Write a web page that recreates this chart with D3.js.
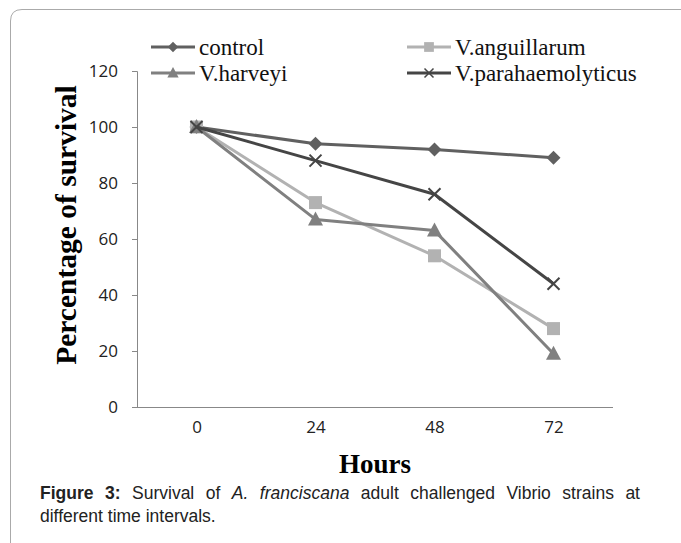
<!DOCTYPE html>
<html>
<head>
<meta charset="utf-8">
<script src="https://cdn.jsdelivr.net/npm/d3@7"></script>
<style>
  body { margin: 0; background: #fff; }
  #wrap { position: relative; width: 681px; height: 543px; overflow: hidden; }
  #caption {
    position: absolute; left: 40px; top: 482px; width: 600px;
    font-family: "Liberation Sans", Arial, sans-serif; font-size: 17.5px;
    line-height: 23px; color: #222;
  }
  #caption .l1 { text-align: justify; text-align-last: justify; white-space: nowrap; }
</style>
</head>
<body>
<div id="wrap">
  <div id="chart"></div>
  <div id="caption">
    <div class="l1"><b>Figure 3:</b> Survival of <i>A. franciscana</i> adult challenged Vibrio strains at</div>
    <div>different time intervals.</div>
  </div>
</div>
<script>
// chart data
const hours = ['0', '24', '48', '72'];
const yTicks = [0, 20, 40, 60, 80, 100, 120];
const seriesNames = ['control', 'V.anguillarum', 'V.harveyi', 'V.parahaemolyticus'];
const control = [100, 94, 92, 89];
const anguillarum = [100, 73, 54, 28];
const harveyi = [100, 67, 63, 19];
const parahaemolyticus = [100, 88, 76, 44];

const series = [
  { name: seriesNames[0], values: control, color: '#606060', symbol: 'diamond' },
  { name: seriesNames[1], values: anguillarum, color: '#b2b2b2', symbol: 'square' },
  { name: seriesNames[2], values: harveyi, color: '#808080', symbol: 'triangle' },
  { name: seriesNames[3], values: parahaemolyticus, color: '#454545', symbol: 'cross' }
];

const W = 681, H = 543;
const svg = d3.select('#chart').append('svg')
  .attr('width', W).attr('height', H);

// outer frame (left + top edges with rounded corner)
svg.append('path')
  .attr('d', `M10.5,${H} L10.5,21 Q10.5,9.5 22,9.5 L${W},9.5`)
  .attr('fill', 'none')
  .attr('stroke', '#aaa')
  .attr('stroke-width', 1);

const plot = { left: 137, right: 613, top: 71, bottom: 407 };

const x = d3.scalePoint().domain(hours).range([plot.left, plot.right]).padding(0.5);
const y = d3.scaleLinear().domain([0, 120]).range([plot.bottom, plot.top]);

// y axis
const yAxis = svg.append('g')
  .attr('transform', `translate(${plot.left},0)`)
  .call(d3.axisLeft(y).tickValues(yTicks).tickSize(5).tickPadding(14));
yAxis.select('.domain').attr('stroke', '#888');
yAxis.selectAll('.tick line').attr('stroke', '#888');
yAxis.selectAll('.tick text')
  .attr('font-family', '"Open Sans", sans-serif')
  .attr('font-size', 17).attr('fill', '#222');

// x axis
const xAxis = svg.append('g')
  .attr('transform', `translate(0,${plot.bottom})`)
  .call(d3.axisBottom(x).tickSize(0).tickPadding(14));
xAxis.select('.domain').attr('stroke', '#888').attr('d', `M${plot.left},0.5H${plot.right}`);
xAxis.selectAll('.tick text')
  .attr('font-family', '"Open Sans", sans-serif')
  .attr('font-size', 17).attr('fill', '#222');

// axis titles
svg.append('text')
  .attr('transform', 'rotate(-90)')
  .attr('x', -225).attr('y', 76)
  .attr('text-anchor', 'middle')
  .attr('font-family', '"Liberation Serif", "Times New Roman", serif')
  .attr('font-weight', 'bold').attr('font-size', 29.5)
  .text('Percentage of survival');

svg.append('text')
  .attr('x', 375).attr('y', 473)
  .attr('text-anchor', 'middle')
  .attr('font-family', '"Liberation Serif", "Times New Roman", serif')
  .attr('font-weight', 'bold').attr('font-size', 27)
  .text('Hours');

function drawMarker(g, s, cx, cy, k) {
  const c = s.color;
  if (s.symbol === 'diamond') {
    const r = 7 * k;
    g.append('path').attr('d', `M${cx},${cy - r}L${cx + r},${cy}L${cx},${cy + r}L${cx - r},${cy}Z`).attr('fill', c);
  } else if (s.symbol === 'square') {
    const r = 6.5 * k;
    g.append('rect').attr('x', cx - r).attr('y', cy - r).attr('width', 2 * r).attr('height', 2 * r).attr('fill', c);
  } else if (s.symbol === 'triangle') {
    g.append('path').attr('d', `M${cx},${cy - 8 * k}L${cx + 7.5 * k},${cy + 6 * k}L${cx - 7.5 * k},${cy + 6 * k}Z`).attr('fill', c);
  } else {
    const r = 6 * k;
    g.append('path').attr('d', `M${cx - r},${cy - r}L${cx + r},${cy + r}M${cx + r},${cy - r}L${cx - r},${cy + r}`)
      .attr('stroke', c).attr('stroke-width', 2 * k).attr('fill', 'none');
  }
}

const line = d3.line().x((d, i) => x(hours[i])).y(d => y(d));

series.forEach(s => {
  const g = svg.append('g');
  g.append('path')
    .attr('d', line(s.values))
    .attr('fill', 'none')
    .attr('stroke', s.color)
    .attr('stroke-width', 3)
    .attr('stroke-linejoin', 'round');
  s.values.forEach((v, i) => drawMarker(g, s, x(hours[i]), y(v), 1));
});

// legend
const legendPos = [[151, 47], [407, 47], [151, 73], [407, 73]];
series.forEach((s, i) => {
  const [lx, ly] = legendPos[i];
  const g = svg.append('g');
  g.append('line')
    .attr('x1', lx).attr('x2', lx + 44)
    .attr('y1', ly).attr('y2', ly)
    .attr('stroke', s.color).attr('stroke-width', 3);
  drawMarker(g, s, lx + 22, ly, 0.75);
  g.append('text')
    .attr('x', lx + 48).attr('y', ly + 8)
    .attr('font-family', '"Liberation Serif", "Times New Roman", serif')
    .attr('font-size', 23).attr('fill', '#111')
    .text(s.name);
});
</script>
</body>
</html>
